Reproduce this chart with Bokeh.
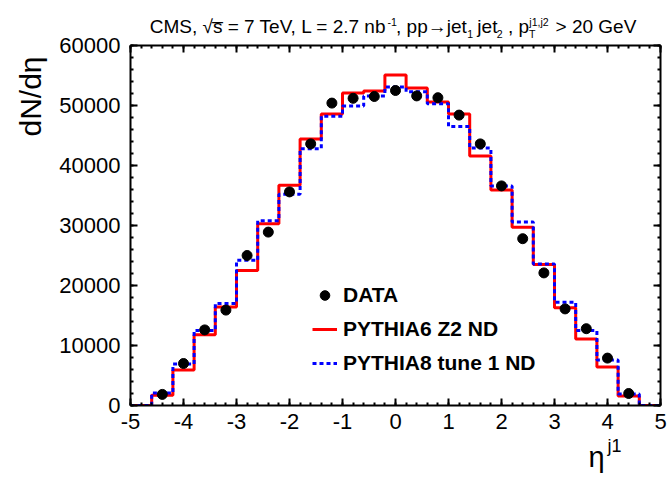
import numpy as np
from bokeh.plotting import figure
from bokeh.models import Range1d, LinearAxis, FixedTicker, Label, Legend, LegendItem
from bokeh.embed import file_html
from bokeh.resources import INLINE

# ---------------- data ----------------
eta_centers = [-4.4, -4.0, -3.6, -3.2, -2.8, -2.4, -2.0, -1.6, -1.2, -0.8, -0.4, 0.0,
               0.4, 0.8, 1.2, 1.6, 2.0, 2.4, 2.8, 3.2, 3.6, 4.0, 4.4]
eta_edges = [-4.6, -4.2, -3.8, -3.4, -3.0, -2.6, -2.2, -1.8, -1.4, -1.0, -0.6, -0.2,
             0.2, 0.6, 1.0, 1.4, 1.8, 2.2, 2.6, 3.0, 3.4, 3.8, 4.2, 4.6]
data_dndeta = [1850, 7000, 12600, 15900, 25000, 28900, 35600, 43600, 50400, 51200, 51500, 52500,
               51600, 51300, 48400, 43600, 36600, 27800, 22100, 16100, 12800, 7900, 2000]
pythia6_z2 = [1700, 5900, 11800, 16400, 22500, 30300, 36700, 44400, 48600, 52100, 52400, 55100,
              52900, 50600, 48600, 41600, 35900, 29700, 23500, 16300, 11100, 6400, 1600]
pythia8_t1 = [2100, 6900, 12500, 17000, 24200, 30800, 35200, 42800, 48200, 49900, 51600, 53100,
              52300, 50300, 46500, 42900, 36600, 30600, 23600, 17200, 12500, 7600, 1900]
x_ticks = [-5, -4, -3, -2, -1, 0, 1, 2, 3, 4, 5]
x_tick_labels = ["-5", "-4", "-3", "-2", "-1", "0", "1", "2", "3", "4", "5"]
y_ticks = [0, 10000, 20000, 30000, 40000, 50000, 60000]
x_lo, x_hi = -5, 5
y_lo, y_hi = 0, 60000

# ---------------- geometry ----------------
W, H = 668, 477
BL, BR, BT, BB = 130, 8, 45, 72
FW, FH = W - BL - BR, H - BT - BB
FONT = "Liberation Sans"
NBSP = "\u00a0"

p = figure(width=W, height=H, x_range=Range1d(x_lo, x_hi), y_range=Range1d(y_lo, y_hi),
           output_backend="svg", toolbar_location=None,
           min_border_left=BL, min_border_right=BR, min_border_top=BT, min_border_bottom=BB)
p.grid.visible = False
p.outline_line_color = None
p.background_fill_color = "white"
p.border_fill_color = "white"

x_minor = list(np.round(np.arange(x_lo, x_hi + 1e-9, 0.2), 3))
y_minor = list(np.arange(y_lo, y_hi + 1, 2000))


def style_axis(ax, ticks, minor, show_labels):
    ax.ticker = FixedTicker(ticks=ticks, minor_ticks=minor)
    ax.axis_line_color = "black"
    ax.axis_line_width = 2
    ax.major_tick_line_color = "black"
    ax.major_tick_line_width = 2
    ax.major_tick_in = 7
    ax.major_tick_out = 0
    ax.minor_tick_line_color = "black"
    ax.minor_tick_line_width = 2
    ax.minor_tick_in = 3
    ax.minor_tick_out = 0
    ax.major_label_text_font = FONT
    ax.major_label_text_color = "black"
    ax.major_label_text_font_size = "22px"
    if not show_labels:
        ax.major_label_overrides = {t: "" for t in ticks}
        ax.major_label_standoff = 0


style_axis(p.xaxis[0], x_ticks, x_minor, True)
style_axis(p.yaxis[0], y_ticks, y_minor, True)
p.xaxis[0].major_label_overrides = dict(zip(x_ticks, x_tick_labels))
p.xaxis[0].major_label_standoff = 8
p.yaxis[0].major_label_standoff = 10

top_ax = LinearAxis()
right_ax = LinearAxis()
style_axis(top_ax, x_ticks, x_minor, False)
style_axis(right_ax, y_ticks, y_minor, False)
p.add_layout(top_ax, "above")
p.add_layout(right_ax, "right")

# ---------------- histograms & data ----------------
x_step = [x_lo] + eta_edges + [x_hi]
y6 = [0] + pythia6_z2 + [0, 0]
y8 = [0] + pythia8_t1 + [0, 0]
r6 = p.step(x_step, y6, mode="after", line_color="#ff0000", line_width=3)
r8 = p.step(x_step, y8, mode="after", line_color="#0000ff", line_width=3, line_dash="4 3")
rd = p.scatter(eta_centers, data_dndeta, size=10, marker="circle",
               fill_color="black", line_color="black")

leg = Legend(items=[LegendItem(label="DATA", renderers=[rd]),
                    LegendItem(label="PYTHIA6 Z2 ND", renderers=[r6]),
                    LegendItem(label="PYTHIA8 tune 1 ND", renderers=[r8])],
             location=(182, 30), orientation="vertical",
             border_line_color=None, background_fill_alpha=0,
             label_text_font=FONT, label_text_font_style="bold", label_text_font_size="21px",
             label_text_color="black", glyph_width=25, glyph_height=24, label_height=24,
             label_standoff=6, spacing=10, padding=0, margin=0)
p.add_layout(leg, "center")


# ---------------- texts outside the frame (in side panels, so not clipped) ----------------
def dx(px):
    return x_lo + (px - BL) * (x_hi - x_lo) / FW


def dy(py):
    return y_lo + (BT + FH - py) * (y_hi - y_lo) / FH


MID = 0.3465  # (ascent - descent) / 2 in em: baseline offset from the vertical middle


def lab(side, px, base_py, text, fs, align="left", angle=0.0):
    # place a horizontal text so that its alphabetic baseline sits at base_py
    p.add_layout(Label(x=dx(px), y=dy(base_py - MID * fs), text=text, text_font=FONT,
                       text_font_size=f"{fs}px", text_align=align, text_baseline="middle",
                       angle=angle, text_color="black"), side)


# title: main line with non-breaking-space gaps, plus one superscript line and one subscript line
MS, SS = 19.0, 10.6
sp_m, sp_s = 0.278 * MS, 0.278 * SS
segA, segB, segC, segD, segE = ("CMS, \u221as\u0305 = 7 TeV, L = 2.7 nb", ", pp\u2192jet", "jet",
                                ", p", "> 20 GeV")
wA, wB, wC, wD, wE = 12.667 * MS, 3.724 * MS, 1.056 * MS, 1.112 * MS, 4.253 * MS
gaps = [2, 2, 2, 5]
total = wA + wB + wC + wD + wE + sum(gaps) * sp_m
x0 = BL + FW / 2 - total / 2
xA = x0
xS1 = xA + wA                      # sup "-1"
xB = xS1 + gaps[0] * sp_m
xs1 = xB + wB                      # sub "1"
xC = xs1 + gaps[1] * sp_m
xs2 = xC + wC                      # sub "2"
xD = xs2 + gaps[2] * sp_m
xS2 = xD + wD                      # sup "j1,j2" / sub "T"
xE = xS2 + gaps[3] * sp_m

# small corrections for the rendered (slightly narrower) main line
xS1 -= 3.0
xS2 -= 4.5
xs1 -= 4.5
xs2 -= 4.5

main_line = (segA + NBSP * gaps[0] + segB + NBSP * gaps[1] + segC + NBSP * gaps[2] + segD
             + NBSP * gaps[3] + segE)
n1 = int(round((xS2 - xS1 - 0.889 * SS) / sp_s))
sup_line = "-1" + NBSP * n1 + "j1,j2"
m1 = int(round((xs2 - xs1 - 0.556 * SS) / sp_s))
m2 = int(round((xS2 - xs2 - 0.556 * SS) / sp_s))
sub_line = "1" + NBSP * m1 + "2" + NBSP * m2 + "T"

base = 33
lab("above", xA, base, main_line, MS)
lab("above", xS1, base - 8, sup_line, SS)
lab("above", xs1, base + 4, sub_line, SS)

# y-axis title (rotated, centred)
p.add_layout(Label(x=dx(30), y=dy(96), text="dN/d\u03b7", text_font=FONT, text_font_size="30px",
                   text_align="center", text_baseline="middle", angle=np.pi / 2,
                   text_color="black"), "left")
# x-axis title
lab("below", 588, 467, "\u03b7", 29)
lab("left", 607, 452, "j1", 18)

open("out.html", "w").write(file_html(p, INLINE))
